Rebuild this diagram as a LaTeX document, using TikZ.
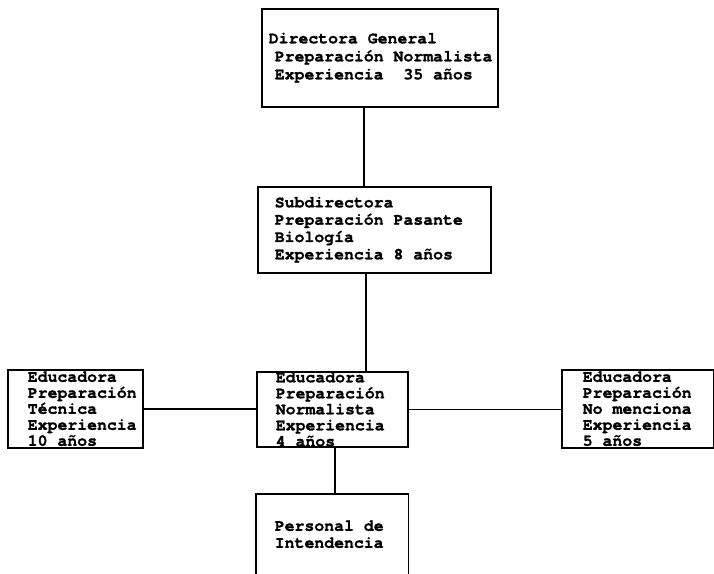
\documentclass[tikz,border=0pt]{standalone}
\usepackage{fontspec}
\setmonofont{TeX Gyre Cursor}[BoldFeatures={FakeBold=1.2}]
\newcommand{\tsp}{\hspace*{0.6em}}
\begin{document}
\begin{tikzpicture}[x=1pt,y=1pt,
  orgbox/.style={draw, line width=1.5pt, anchor=north west, inner ysep=0pt,
    align=left, font=\ttfamily\bfseries\fontsize{16.5}{16}\selectfont},
  link/.style={line width=1.5pt}]
\useasboundingbox (0,0) rectangle (714,-573);
\fill[white] (0,0) rectangle (714,-573);
% boxes
\node[orgbox, inner xsep=7pt, text width=222pt, minimum height=98pt,
  font=\ttfamily\bfseries\fontsize{16.5}{18}\selectfont] (dir) at (261,-8)
  {Directora\tsp General\\\hspace*{6pt}Preparación\tsp Normalista\\\hspace*{6pt}Experiencia\tsp\tsp 35\tsp años};
\node[orgbox, inner xsep=17pt, text width=199pt, minimum height=86pt,
  font=\ttfamily\bfseries\fontsize{16.5}{17.3}\selectfont] (sub) at (257,-186)
  {Subdirectora\\Preparación\tsp Pasante\\Biología\\Experiencia\tsp 8\tsp años};
\node[orgbox, inner xsep=20pt, text width=95pt, minimum height=78pt] (edl) at (7,-369)
  {Educadora\\Preparación\\Técnica\\Experiencia\\10\tsp años};
\node[orgbox, inner xsep=19pt, text width=113pt, minimum height=75pt] (edc) at (256,-371)
  {Educadora\\Preparación\\Normalista\\Experiencia\\4\tsp años};
\node[orgbox, inner xsep=21pt, text width=110pt, minimum height=78pt] (edr) at (561,-369)
  {Educadora\\Preparación\\No\tsp menciona\\Experiencia\\5\tsp años};
\node[orgbox, draw=none, inner xsep=18pt, text width=115pt, minimum height=79pt,
  font=\ttfamily\bfseries\fontsize{16.5}{17}\selectfont] (per) at (256,-494)
  {Personal\tsp de\\Intendencia};
\draw[link] (per.south west) -- (per.north west) -- (per.north east) -- (per.south east);
% connector columns
\coordinate (c1) at (364,0);
\coordinate (c2) at (366,0);
\coordinate (c3) at (335,0);
\draw[link] (dir.south -| c1) -- (sub.north -| c1);
\draw[link] (sub.south -| c2) -- (edc.north -| c2);
\draw[link] (edc.south -| c3) -- (per.north -| c3);
\draw[link] (edl.east) -- (edl.east -| edc.west);
\draw[link] (edc.east) -- (edc.east -| edr.west);
\end{tikzpicture}
\end{document}
